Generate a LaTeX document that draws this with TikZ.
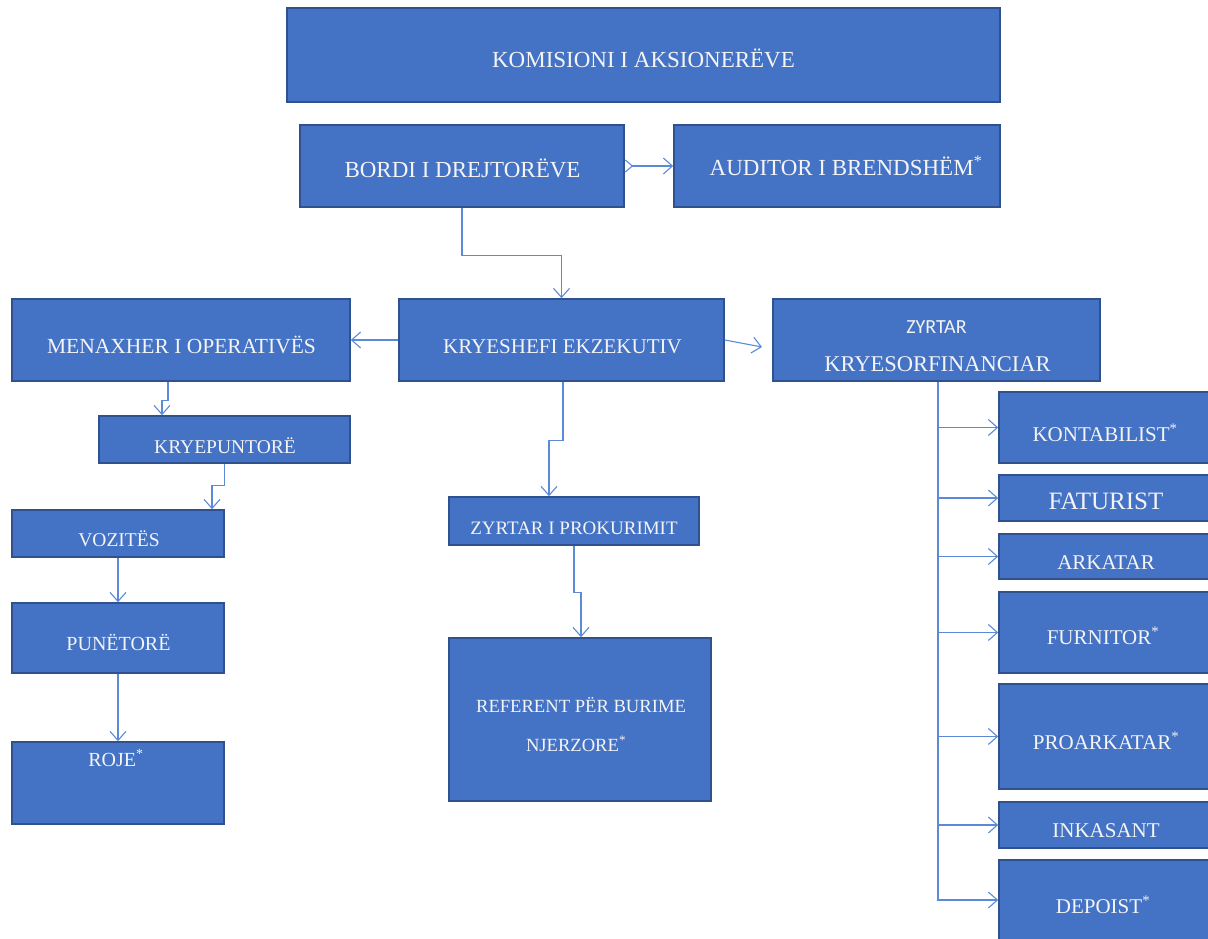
\documentclass[tikz,border=0pt]{standalone}
\usepackage{fontspec}
\setmainfont{Liberation Serif}
\newfontfamily\orgsans{Carlito}
\usetikzlibrary{arrows.meta,calc}
\definecolor{boxfill}{HTML}{4472C4}
\definecolor{boxline}{HTML}{2F528F}
\definecolor{conn}{HTML}{5B8BD8}
\definecolor{txtc}{HTML}{F4F4F4}
\newcommand\orgfs[1]{\fontsize{#1}{#1}\selectfont}
\begin{document}
\begin{tikzpicture}[x=1pt,y=-1pt,
  orgbox/.style={draw=boxline, line width=1.6pt, fill=boxfill, inner sep=0pt},
  lbl/.style={text=txtc, inner sep=0pt, anchor=base},
  link/.style={draw=conn, line width=1.1pt, -{Straight Barb[length=9pt,width=16pt]}}]
\useasboundingbox (0,0) rectangle (1208,939);
\fill[white] (0,0) rectangle (1208,939);

% boxes
\node[orgbox, minimum width=713pt, minimum height=94pt] (kom) at (643.5,55) {};
\node[orgbox, minimum width=324pt, minimum height=82pt] (bordi) at (462,166) {};
\node[orgbox, minimum width=326pt, minimum height=82pt] (aud) at (837,166) {};
\node[orgbox, minimum width=338pt, minimum height=82pt] (men) at (181,340) {};
\node[orgbox, minimum width=325pt, minimum height=82pt] (kry) at (561.5,340) {};
\node[orgbox, minimum width=327pt, minimum height=82pt] (cfo) at (936.5,340) {};
\node[orgbox, minimum width=251pt, minimum height=47pt] (kp) at (224.5,439.5) {};
\node[orgbox, minimum width=212pt, minimum height=47pt] (vo) at (118,533.5) {};
\node[orgbox, minimum width=212pt, minimum height=70pt] (pu) at (118,638) {};
\node[orgbox, minimum width=212pt, minimum height=82pt] (roje) at (118,783) {};
\node[orgbox, minimum width=250pt, minimum height=48pt] (zp) at (574,521) {};
\node[orgbox, minimum width=262pt, minimum height=163pt] (ref) at (580,719.5) {};
\node[orgbox, minimum width=217pt, minimum height=71pt] (kon) at (1107.5,427.5) {};
\node[orgbox, minimum width=217pt, minimum height=46pt] (fat) at (1107.5,498) {};
\node[orgbox, minimum width=217pt, minimum height=45pt] (ark) at (1107.5,556.5) {};
\node[orgbox, minimum width=217pt, minimum height=81pt] (fur) at (1107.5,632.5) {};
\node[orgbox, minimum width=217pt, minimum height=105pt] (pro) at (1107.5,736.5) {};
\node[orgbox, minimum width=217pt, minimum height=46pt] (ink) at (1107.5,825) {};
\node[orgbox, minimum width=217pt, minimum height=86pt] (dep) at (1107.5,903) {};

% texts
\node[lbl, font=\orgfs{23}] (t-kom) at (643.5,67.5) {KOMISIONI I AKSIONERËVE};
\node[lbl, font=\orgfs{23}] (t-bordi) at (462.5,177.5) {BORDI I DREJTORËVE};
\node[lbl, font=\orgfs{23}] (t-aud) at (846,175.5) {AUDITOR I BRENDSHËM\textsuperscript{*}};
\node[lbl, font=\orgfs{21.5}] (t-men) at (181.5,353) {MENAXHER I OPERATIVËS};
\node[lbl, font=\orgfs{21}] (t-kry) at (562.5,353) {KRYESHEFI EKZEKUTIV};
\node[lbl, font=\orgsans\orgfs{20}] (t-cfo1) at (936.5,333) {ZYRTAR};
\node[lbl, font=\orgfs{22.5}] (t-cfo2) at (937.5,371.5) {KRYESORFINANCIAR};
\node[lbl, font=\orgfs{19.5}] (t-kp) at (225,453.5) {KRYEPUNTORË};
\node[lbl, font=\orgfs{19.5}] (t-vo) at (119,546.5) {VOZITËS};
\node[lbl, font=\orgfs{20}] (t-pu) at (118.5,650.5) {PUNËTORË};
\node[lbl, font=\orgfs{20}] (t-roje) at (116,766.5) {ROJE\textsuperscript{*}};
\node[lbl, font=\orgfs{19}] (t-zp) at (574,534.5) {ZYRTAR I PROKURIMIT};
\node[lbl, font=\orgfs{18.6}] (t-ref1) at (581,712) {REFERENT PËR BURIME};
\node[lbl, font=\orgfs{18.6}] (t-ref2) at (576,751) {NJERZORE\textsuperscript{*}};
\node[lbl, font=\orgfs{21}] (t-kon) at (1105,441) {KONTABILIST\textsuperscript{*}};
\node[lbl, font=\orgfs{25}] (t-fat) at (1106,509) {FATURIST};
\node[lbl, font=\orgfs{21}] (t-ark) at (1106,569) {ARKATAR};
\node[lbl, font=\orgfs{21}] (t-fur) at (1103,644) {FURNITOR\textsuperscript{*}};
\node[lbl, font=\orgfs{21}] (t-pro) at (1106,749) {PROARKATAR\textsuperscript{*}};
\node[lbl, font=\orgfs{21}] (t-ink) at (1106,837) {INKASANT};
\node[lbl, font=\orgfs{21}] (t-dep) at (1103,913) {DEPOIST\textsuperscript{*}};

% connectors
\draw[draw=conn, line width=1.1pt, {Straight Barb[reversed,length=7pt,width=12pt]}-{Straight Barb[length=9pt,width=16pt]}] (bordi.east) -- (aud.west);
\draw[link] (bordi.south) -- ++(0,48) -| (kry.north);
\draw[link] (kry.west) -- (men.east);
\coordinate (cfoin) at (762,347);
\draw[link] (kry.east) -- (cfoin);
\draw[link] ($(men.south)+(-13,0)$) -- ++(0,19) -| ($(kp.north)+(-62.5,0)$);
\draw[link] (kp.south) -- ++(0,22) -| ($(vo.north)+(94,0)$);
\draw[link] (vo.south) -- (pu.north);
\draw[link] (pu.south) -- (roje.north);
\draw[link] ($(kry.south)+(1.5,0)$) -- ++(0,59) -| ($(zp.north)+(-25,0)$);
\draw[link] (zp.south) -- ++(0,47) -| ($(ref.north)+(1,0)$);
\coordinate (trunk) at ($(cfo.south)+(1.5,0)$);
\draw[link] (trunk) |- (kon.west);
\draw[link] (trunk) |- (fat.west);
\draw[link] (trunk) |- (ark.west);
\draw[link] (trunk) |- (fur.west);
\draw[link] (trunk) |- (pro.west);
\draw[link] (trunk) |- (ink.west);
\draw[link] (trunk) |- ($(dep.west)+(0,-3)$);
\end{tikzpicture}
\end{document}
